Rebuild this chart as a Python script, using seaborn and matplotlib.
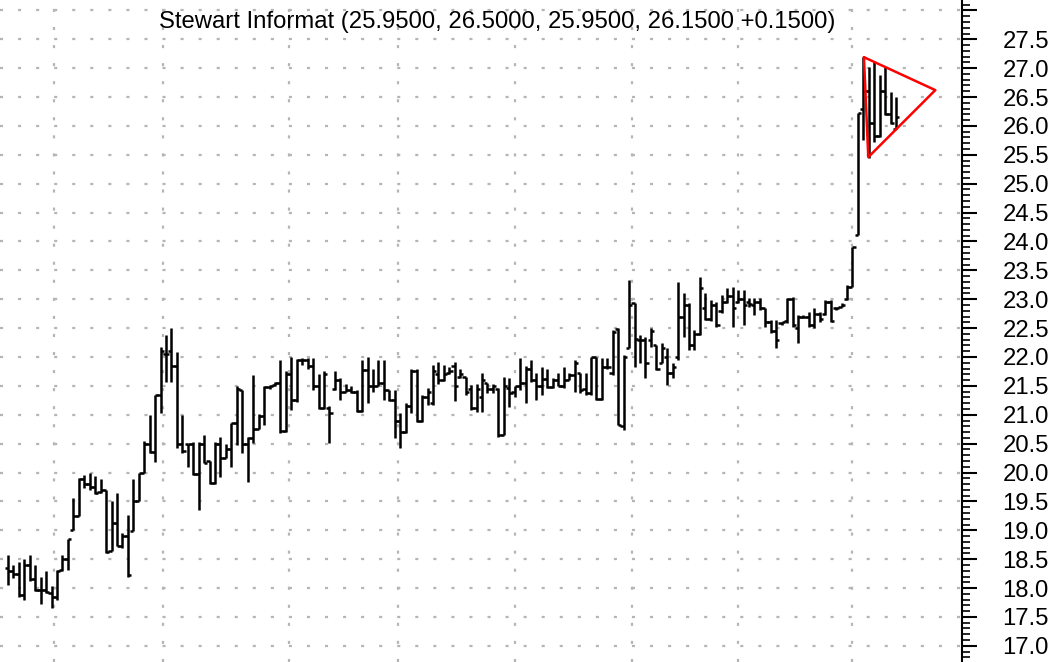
import numpy as np
import pandas as pd
import seaborn as sns
import matplotlib
matplotlib.use("Agg")
import matplotlib.pyplot as plt
from matplotlib.ticker import MultipleLocator

# daily OHLC bars, oldest first
opens = [18.35, 18.30, 18.25, 17.88, 18.40, 18.15, 17.97, 17.97, 17.92, 17.85,
         18.32, 18.50, 19.01, 19.24, 19.88, 19.80, 19.75, 19.66, 19.70, 18.65,
         19.13, 18.73, 18.90, 18.98, 19.50, 19.99, 20.50, 20.36, 21.34, 22.05,
         22.10, 21.85, 20.50, 20.50, 20.50, 19.97, 20.50, 20.20, 19.82, 20.50,
         20.26, 20.40, 20.85, 21.43, 20.50, 20.60, 20.75, 20.97, 21.48, 21.52,
         21.55, 20.72, 21.70, 21.25, 21.95, 21.95, 21.85, 21.50, 21.12, 21.12,
         21.45, 21.60, 21.40, 21.42, 21.40, 21.06, 21.77, 21.50, 21.50, 21.55,
         21.42, 21.25, 20.90, 20.70, 21.15, 21.75, 20.90, 21.30, 21.20, 21.70,
         21.60, 21.72, 21.85, 21.65, 21.65, 21.45, 21.12, 21.30, 21.55, 21.45,
         21.45, 20.65, 21.46, 21.40, 21.50, 21.55, 21.80, 21.60, 21.50, 21.62,
         21.48, 21.60, 21.50, 21.60, 21.68, 21.72, 21.45, 21.37, 22.00, 21.27,
         21.82, 21.72, 22.48, 20.80, 22.15, 22.93, 22.30, 22.30, 22.30, 22.20,
         21.90, 22.00, 21.72, 22.00, 22.70, 22.90, 22.20, 22.40, 22.85, 22.65,
         22.90, 22.80, 22.95, 23.05, 22.95, 23.00, 22.95, 22.90, 22.95, 22.84,
         22.60, 22.45, 22.58, 22.62, 23.00, 22.50, 22.70, 22.70, 22.55, 22.75,
         22.75, 22.95, 22.85, 22.87, 23.00, 23.22, 24.11, 26.30, 26.60, 26.05,
         25.83, 26.60, 26.20, 25.95]
highs = [18.58, 18.40, 18.45, 18.50, 18.58, 18.40, 18.20, 18.30, 18.03, 18.32,
         18.58, 18.85, 19.56, 19.90, 19.96, 19.99, 19.94, 19.88, 19.70, 19.50,
         19.65, 18.95, 19.27, 19.88, 19.99, 20.54, 21.00, 21.34, 22.18, 22.38,
         22.50, 22.09, 21.00, 20.50, 20.53, 20.53, 20.65, 20.20, 20.53, 20.62,
         20.50, 20.85, 21.49, 21.43, 20.62, 21.69, 21.02, 21.49, 21.52, 21.57,
         21.95, 21.75, 22.00, 21.97, 21.98, 21.98, 21.98, 21.70, 21.75, 21.15,
         21.75, 21.63, 21.54, 21.49, 21.43, 21.95, 22.00, 21.80, 21.95, 21.95,
         21.43, 21.43, 21.03, 21.20, 21.80, 21.80, 21.34, 21.46, 21.86, 21.92,
         21.86, 21.83, 21.92, 21.80, 21.66, 21.52, 21.54, 21.72, 21.55, 21.54,
         21.46, 21.66, 21.63, 21.50, 21.98, 21.85, 21.95, 21.72, 21.83, 21.80,
         21.63, 21.72, 21.83, 21.72, 21.95, 21.72, 21.72, 22.00, 22.00, 21.98,
         21.98, 22.47, 22.50, 22.03, 23.33, 22.93, 22.38, 22.35, 22.50, 22.21,
         22.24, 22.15, 21.89, 23.30, 23.10, 22.93, 22.47, 23.39, 23.10, 22.99,
         22.96, 23.07, 23.19, 23.22, 23.16, 23.16, 23.02, 23.02, 23.02, 22.84,
         22.64, 22.64, 22.61, 23.02, 23.04, 22.73, 22.73, 22.78, 22.84, 22.78,
         22.99, 22.99, 22.87, 22.93, 23.24, 23.91, 26.22, 27.20, 27.02, 27.11,
         26.88, 27.02, 26.59, 26.50]
lows = [18.06, 18.18, 17.85, 17.80, 18.12, 17.95, 17.72, 17.92, 17.66, 17.80,
        18.30, 18.32, 19.01, 19.24, 19.73, 19.70, 19.62, 19.65, 18.61, 18.65,
        18.72, 18.70, 18.20, 18.98, 19.50, 19.99, 20.33, 20.19, 21.03, 21.57,
        21.57, 20.42, 20.33, 20.10, 19.96, 19.35, 20.16, 19.81, 19.80, 19.93,
        20.25, 20.10, 20.48, 20.33, 19.84, 20.51, 20.75, 20.82, 21.45, 21.50,
        20.68, 20.70, 21.08, 21.22, 21.86, 21.80, 21.43, 21.10, 21.10, 20.51,
        21.43, 21.26, 21.40, 21.37, 21.05, 21.05, 21.20, 21.40, 21.50, 21.26,
        21.23, 20.60, 20.42, 20.68, 21.03, 20.88, 20.88, 21.17, 21.17, 21.54,
        21.58, 21.70, 21.23, 21.63, 21.34, 21.08, 21.05, 21.05, 21.37, 21.37,
        20.62, 20.65, 21.14, 21.31, 21.43, 21.20, 21.57, 21.26, 21.34, 21.46,
        21.46, 21.49, 21.46, 21.60, 21.40, 21.37, 21.34, 21.34, 21.26, 21.26,
        21.80, 21.69, 20.82, 20.74, 22.15, 21.83, 21.89, 21.63, 22.18, 21.78,
        21.89, 21.52, 21.63, 21.95, 22.35, 22.12, 22.12, 22.38, 22.64, 22.62,
        22.52, 22.76, 22.93, 22.52, 22.93, 22.55, 22.87, 22.73, 22.81, 22.52,
        22.41, 22.15, 22.55, 22.58, 22.52, 22.24, 22.67, 22.52, 22.50, 22.61,
        22.73, 22.61, 22.81, 22.87, 22.99, 23.22, 24.11, 25.75, 25.44, 25.73,
        25.81, 26.19, 26.04, 25.95]
closes = [18.30, 18.25, 17.88, 18.40, 18.15, 17.97, 17.97, 17.94, 17.85, 18.30,
          18.50, 18.85, 19.24, 19.88, 19.80, 19.75, 19.65, 19.70, 18.62, 19.13,
          18.73, 18.90, 18.22, 19.50, 19.99, 20.50, 20.36, 21.34, 22.10, 22.05,
          21.85, 20.50, 20.37, 20.50, 19.97, 20.50, 20.17, 19.82, 20.50, 20.26,
          20.40, 20.85, 21.45, 20.50, 20.60, 20.75, 20.97, 21.48, 21.50, 21.55,
          20.72, 21.70, 21.25, 21.95, 21.95, 21.85, 21.50, 21.12, 21.70, 21.03,
          21.60, 21.40, 21.42, 21.40, 21.06, 21.77, 21.50, 21.50, 21.55, 21.42,
          21.25, 20.90, 20.70, 21.15, 21.75, 20.90, 21.30, 21.40, 21.75, 21.60,
          21.70, 21.75, 21.50, 21.70, 21.40, 21.12, 21.45, 21.60, 21.45, 21.50,
          20.65, 21.50, 21.37, 21.50, 21.55, 21.80, 21.60, 21.50, 21.62, 21.48,
          21.60, 21.50, 21.60, 21.68, 21.90, 21.42, 21.37, 22.00, 21.27, 21.82,
          21.82, 22.43, 20.83, 22.00, 22.90, 22.32, 22.30, 21.90, 22.45, 21.80,
          22.15, 21.72, 21.82, 22.70, 22.90, 22.20, 22.40, 23.20, 22.65, 22.90,
          22.55, 22.95, 23.05, 22.85, 23.00, 22.90, 22.92, 22.95, 22.85, 22.60,
          22.45, 22.30, 22.60, 23.00, 22.55, 22.70, 22.70, 22.55, 22.75, 22.65,
          22.95, 22.62, 22.85, 22.90, 23.22, 23.91, 26.22, 26.60, 26.05, 25.83,
          26.60, 26.20, 26.05, 26.15]

# bar index where each new month starts (dotted verticals)
month_lines = [8.5, 28.5, 51.5, 71.5, 93, 114.5, 134, 155]

# red pennant drawn over the last bars
tri_x = [157.1, 170.2, 157.9, 157.1]
tri_y = [27.19, 26.62, 25.46, 27.19]

title = "Stewart Informat (25.9500, 26.5000, 25.9500, 26.1500 +0.1500)"
grid_levels = np.arange(17.0, 28.01, 0.5)

df = pd.DataFrame({"open": opens, "high": highs, "low": lows, "close": closes})
df["idx"] = np.arange(len(df))

sns.set_theme(style="white")
plt.rcParams["font.family"] = ["Liberation Sans", "DejaVu Sans"]
plt.rcParams["lines.scale_dashes"] = False

fig = plt.figure(figsize=(10.61, 6.62), dpi=100)
ax = fig.add_axes([0, 0, 962 / 1061, 1])

dots = (0, (2.2, 10.8))
for v in grid_levels:
    ax.axhline(v, color="#b5b5b5", lw=1.6, ls=dots, zorder=0)
for m in month_lines:
    ax.axvline(m, color="#b5b5b5", lw=1.6, ls=dots, zorder=0)

tick = 0.6
bar_lw = 1.8
ax.vlines(df["idx"], df["low"], df["high"], color="black", lw=bar_lw)
ax.hlines(df["open"], df["idx"] - tick, df["idx"], color="black", lw=bar_lw)
ax.hlines(df["close"], df["idx"], df["idx"] + tick, color="black", lw=bar_lw)

sns.lineplot(x=tri_x, y=tri_y, sort=False, estimator=None, color="red",
             lw=1.8, ax=ax)

ax.set_xlim(-1.47, 175.1)
ax.set_ylim(16.72, 28.18)
ax.set_xticks([])

ax.yaxis.tick_right()
ax.set_yticks(grid_levels)
ax.set_yticklabels([f"{v:.1f}" if v < 27.9 else "" for v in grid_levels])
ax.yaxis.set_minor_locator(MultipleLocator(0.1))
ax.tick_params(axis="y", which="major", length=11, width=1.5, pad=18,
               labelsize=17.2, colors="black", right=True, left=False)
ax.tick_params(axis="y", which="minor", length=6, width=1.2,
               colors="black", right=True, left=False)
for side in ["left", "top", "bottom"]:
    ax.spines[side].set_visible(False)
ax.spines["right"].set_color("black")
ax.spines["right"].set_linewidth(1.5)
ax.set_xlabel("")
ax.set_ylabel("")

fig.text(497 / 1061, 1 - 22 / 662, title, ha="center", va="center",
         fontsize=17.2, color="black")

fig.savefig("out.png", dpi=100)
